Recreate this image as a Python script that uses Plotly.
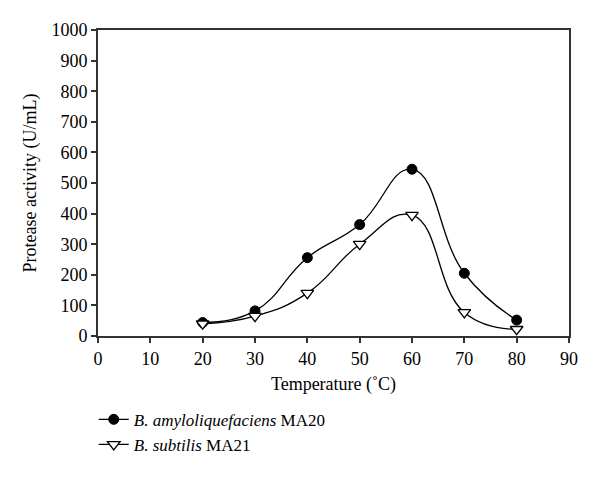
import plotly.graph_objects as go

temperature = [20, 30, 40, 50, 60, 70, 80]
amylo = [44, 82, 256, 364, 545, 205, 52]
subtilis = [40, 65, 140, 300, 395, 77, 22]
x_ticks = [0, 10, 20, 30, 40, 50, 60, 70, 80, 90]
y_ticks = [0, 100, 200, 300, 400, 500, 600, 700, 800, 900, 1000]

FONT = "Liberation Serif"

fig = go.Figure()
fig.add_trace(go.Scatter(
    x=temperature, y=amylo, mode="lines+markers",
    name="<i>B. amyloliquefaciens</i> MA20",
    line=dict(color="black", width=1.3, shape="spline", smoothing=1.3),
    marker=dict(symbol="circle", size=10, color="black", line=dict(color="black", width=1)),
))
fig.add_trace(go.Scatter(
    x=temperature, y=subtilis, mode="lines+markers",
    name="<i>B. subtilis</i> MA21",
    line=dict(color="black", width=1.3, shape="spline", smoothing=1.3),
    marker=dict(symbol="triangle-down", size=11, color="white", line=dict(color="black", width=1.3)),
))

axis_common = dict(
    showgrid=False, zeroline=False, showline=True, linecolor="#333", linewidth=2,
    mirror=True, ticks="outside", ticklen=5, tickwidth=1.5, tickcolor="#333",
    tickfont=dict(family=FONT, size=18, color="black"), automargin=False,
)

fig.update_layout(
    width=600, height=479,
    margin=dict(l=90, r=39, t=22, b=151),
    paper_bgcolor="white", plot_bgcolor="white",
    font=dict(family=FONT, size=18, color="black"),
    xaxis=dict(range=[0, 90], tickvals=x_ticks,
               title=dict(text="Temperature (˚C)", font=dict(family=FONT, size=18), standoff=10),
               **axis_common),
    yaxis=dict(range=[0, 1000], tickvals=y_ticks,
               title=dict(text="Protease activity (U/mL)", font=dict(family=FONT, size=18), standoff=10),
               **axis_common),
    showlegend=True,
    legend=dict(x=-0.009, y=-0.215, xanchor="left", yanchor="top",
                font=dict(family=FONT, size=17, color="black"),
                itemwidth=30, tracegroupgap=0, bgcolor="rgba(0,0,0,0)"),
)

fig.write_html("out.html")
